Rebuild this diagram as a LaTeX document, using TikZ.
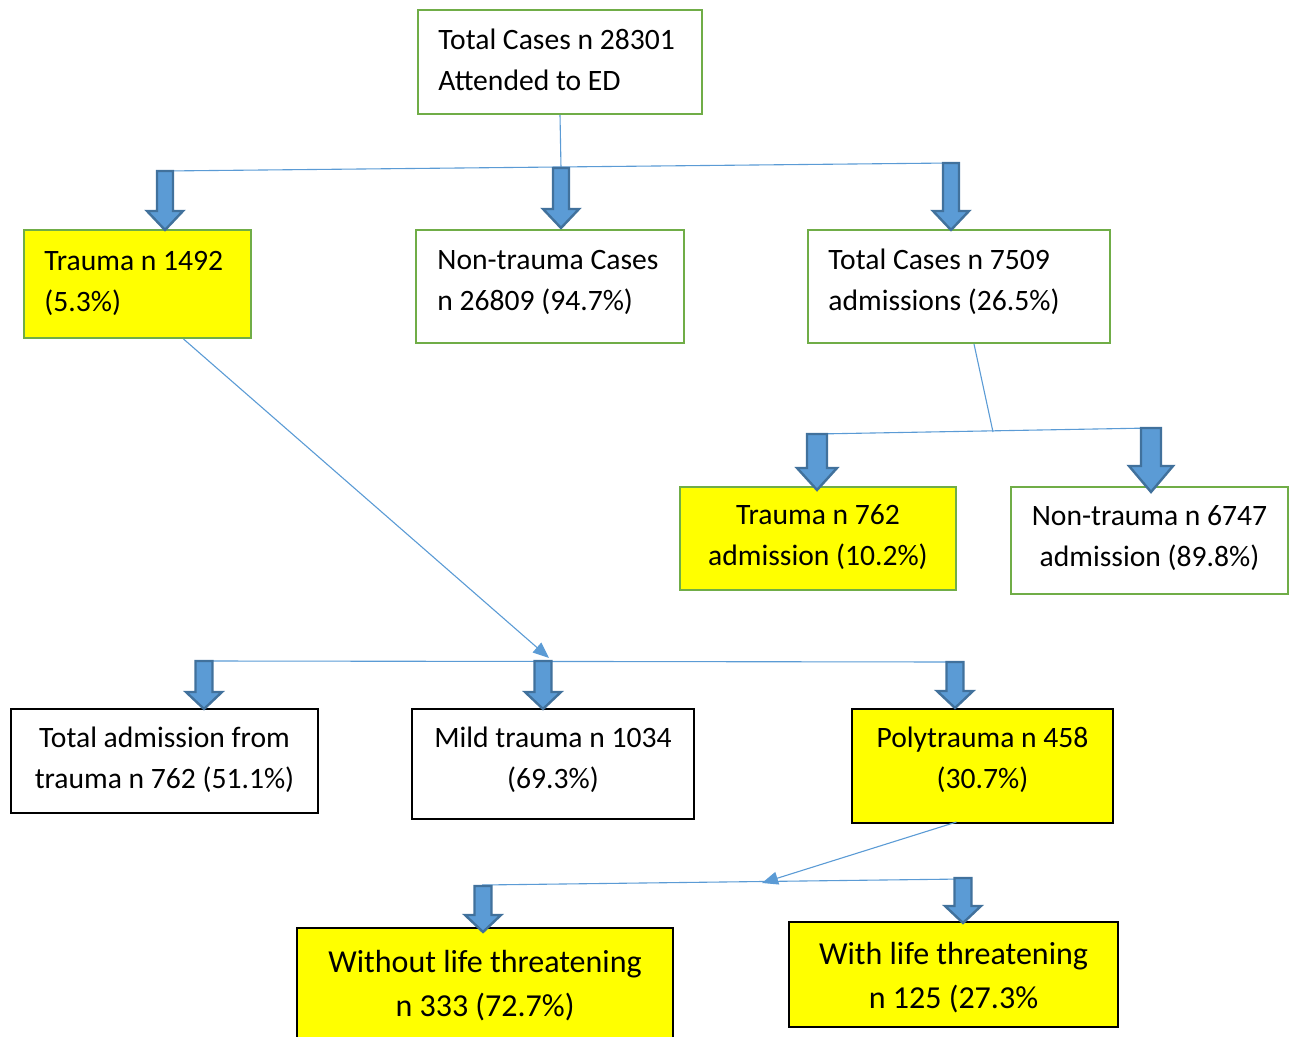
\documentclass[tikz,border=0pt]{standalone}
\usepackage{fontspec}
\setmainfont{Carlito}
\usetikzlibrary{arrows.meta,calc}
\definecolor{gborder}{HTML}{70AD47}
\definecolor{lblue}{HTML}{5B9BD5}
\definecolor{dblue}{HTML}{41719C}
\definecolor{yel}{HTML}{FFFF00}
\newcommand\barrow[6]{% x, ytop, ybot, shaft width, head width, head height
  \filldraw[fill=lblue,draw=dblue,line width=1.2pt,line join=miter]
    ({#1-#4/2},#2) -- ({#1+#4/2},#2) -- ({#1+#4/2},{#3-#6}) -- ({#1+#5/2},{#3-#6})
    -- (#1,#3) -- ({#1-#5/2},{#3-#6}) -- ({#1-#4/2},{#3-#6}) -- cycle;}
\tikzset{
  gbox/.style={draw=gborder,line width=1pt,fill=white,inner sep=0pt},
  ybox/.style={draw=gborder,line width=1pt,fill=yel,inner sep=0pt},
  kbox/.style={draw=black,line width=1pt,fill=white,inner sep=0pt},
  kybox/.style={draw=black,line width=1pt,fill=yel,inner sep=0pt},
  txt/.style={inner sep=0pt,font=\fontsize{14.8}{20.5}\selectfont},
  btxt/.style={inner sep=0pt,font=\fontsize{16}{22}\selectfont},
  conn/.style={draw=lblue,line width=0.55pt},
  tipconn/.style={conn,-{Triangle[length=8pt,width=6.5pt]}}
}
\begin{document}
\begin{tikzpicture}[x=0.5pt,y=-0.5pt]
\useasboundingbox (0,0) rectangle (1289,1037);
% boxes
\node[gbox,minimum width=142pt,minimum height=52pt] (top) at (560,62) {};
\node[txt,anchor=west,align=left] (topt) at ([xshift=10.5pt,yshift=1pt]top.west) {Total Cases n 28301\\Attended to ED};
\node[ybox,minimum width=113.5pt,minimum height=54pt] (tr1) at (137.5,284) {};
\node[txt,anchor=west,align=left] (tr1t) at ([xshift=10.5pt,yshift=0.5pt]tr1.west) {Trauma n 1492\\(5.3\%)};
\node[gbox,minimum width=134pt,minimum height=56.5pt] (nt1) at (550,286.5) {};
\node[txt,anchor=west,align=left] (nt1t) at ([xshift=11pt,yshift=2pt]nt1.west) {Non-trauma Cases\\n 26809 (94.7\%)};
\node[gbox,minimum width=151pt,minimum height=56.5pt] (tc) at (959,286.5) {};
\node[txt,anchor=west,align=left] (tct) at ([xshift=10.5pt,yshift=2.5pt]tc.west) {Total Cases n 7509\\admissions (26.5\%)};
\node[ybox,minimum width=138pt,minimum height=51.5pt] (tr2) at (818,538.5) {};
\node[txt,align=center] (tr2t) at (818,537.5) {Trauma n 762\\admission (10.2\%)};
\node[gbox,minimum width=138.5pt,minimum height=53.5pt] (nt2) at (1149.5,540.5) {};
\node[txt,align=center] (nt2t) at (1149.5,538) {Non-trauma n 6747\\admission (89.8\%)};
\node[kbox,minimum width=153.5pt,minimum height=52pt] (ta) at (164.5,761) {};
\node[txt,align=center] (tat) at (164.5,759.5) {Total admission from\\trauma n 762 (51.1\%)};
\node[kbox,minimum width=141pt,minimum height=55pt] (mild) at (553,764) {};
\node[txt,align=center] (mildt) at (553,759.5) {Mild trauma n 1034\\(69.3\%)};
\node[kybox,minimum width=130.5pt,minimum height=57pt] (poly) at (982.5,766) {};
\node[txt,align=center] (polyt) at (982.5,759.5) {Polytrauma n 458\\(30.7\%)};
\node[kybox,minimum width=188pt,minimum height=58pt] (wo) at (485,986) {};
\node[btxt,align=center] (wot) at (485,986) {Without life threatening\\n 333 (72.7\%)};
\node[kybox,minimum width=164.5pt,minimum height=52.5pt] (with) at (953.5,974.5) {};
\node[btxt,align=center] (witht) at (953.5,978) {With life threatening\\n 125 (27.3\%};
% connector coordinates
\coordinate (j1) at (561,168);
\coordinate (h1a) at (165,171);
\coordinate (h1b) at (951,163);
\coordinate (j2) at (993,432);
\coordinate (h2a) at (817,434);
\coordinate (h2b) at (1151,428);
\coordinate (j3) at (549,658);
\coordinate (h3a) at (204,661);
\coordinate (h3b) at (955,662);
\coordinate (j4) at (762,883);
\coordinate (h4a) at (482,885);
\coordinate (h4b) at (963,879);
% thin connectors
\draw[conn] (top.south) -- (j1);
\draw[conn] (h1a) -- (h1b);
\draw[conn] ($(tc.south)+(15,0)$) -- (j2);
\draw[conn] (h2a) -- (h2b);
\draw[tipconn] ($(tr1.south)+(46,0)$) -- (j3);
\draw[conn] (h3a) -- (h3b);
\draw[tipconn] ($(poly.south)+(-26,-2)$) -- (j4);
\draw[conn] (h4a) -- (h4b);
% block arrows
\barrow{165}{171}{230}{16}{36}{19}
\barrow{561}{168}{228}{16}{36}{19}
\barrow{951}{163}{230}{16}{36}{19}
\barrow{817}{434}{490}{20}{40}{22}
\barrow{1151}{428}{492}{20}{44}{26}
\barrow{204}{661}{709}{17}{36}{17}
\barrow{543}{661}{709}{17}{36}{17}
\barrow{955}{662}{708}{17}{36}{17}
\barrow{483}{886}{932}{17}{36}{17}
\barrow{963}{878}{923}{17}{36}{17}
\end{tikzpicture}
\end{document}
